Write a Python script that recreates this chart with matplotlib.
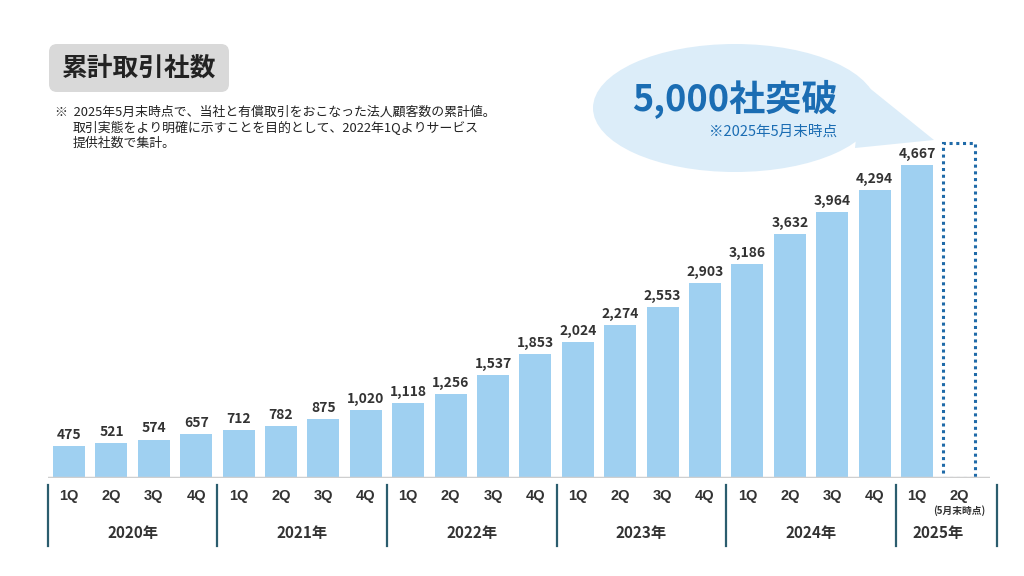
import matplotlib
matplotlib.use("Agg")
import matplotlib.pyplot as plt
from matplotlib.patches import FancyBboxPatch, Ellipse, Polygon, Rectangle
import matplotlib.transforms as mtransforms

plt.rcParams['font.family'] = ['Noto Sans CJK JP', 'DejaVu Sans']

# ---- data ----
years = ["2020年", "2021年", "2022年", "2023年", "2024年", "2025年"]
quarters = ["1Q", "2Q", "3Q", "4Q"] * 5 + ["1Q", "2Q"]
values = [475, 521, 574, 657, 712, 782, 875, 1020, 1118, 1256, 1537, 1853,
          2024, 2274, 2553, 2903, 3186, 3632, 3964, 4294, 4667]
target_value = 5000
title = "累計取引社数"
note_lines = ["※  2025年5月末時点で、当社と有償取引をおこなった法人顧客数の累計値。",
              "取引実態をより明確に示すことを目的として、2022年1Qよりサービス",
              "提供社数で集計。"]
bubble_main = "5,000社突破"
bubble_sub = "※2025年5月末時点"
sub_label = "(5月末時点)"

W, H = 1024, 576
fig = plt.figure(figsize=(W / 100, H / 100), dpi=100)

# overlay axes in pixel coords
ov = fig.add_axes([0, 0, 1, 1], zorder=0)
ov.set_xlim(0, W)
ov.set_ylim(H, 0)
ov.axis("off")

# main axes
px_unit = 42.4
x_first = 69
base_px = 478
left_px = x_first - 0.5 * px_unit
right_px = 990
ymax = 6000
scale = (478 - 165) / 4667
top_px = base_px - ymax * scale
ax = fig.add_axes([left_px / W, (H - base_px) / H, (right_px - left_px) / W,
                   (base_px - top_px) / H], zorder=1)
ax.patch.set_alpha(0)
ax.set_xlim(-0.5, (right_px - x_first) / px_unit)
ax.set_ylim(0, ymax)
ax.axis("off")

xs = list(range(len(values)))
bar_w = 32 / px_unit
ax.bar(xs, values, width=bar_w, color="#9fd0f1", zorder=2)
for x, v in zip(xs, values):
    ax.text(x, v + 60, f"{v:,}", ha="center", va="bottom", fontsize=10,
            fontweight="bold", color="#333333")

# dotted target box
xt = len(values)
ax.add_patch(Rectangle((xt - bar_w / 2, 0), bar_w, target_value, fill=False,
                       edgecolor="#1f6aa8", linestyle=(0, (1, 1.2)), lw=2.2, zorder=3))

# baseline
ax.axhline(0, color="#cfcfcf", lw=2.5, zorder=4, xmin=0, xmax=1)

trans = mtransforms.blended_transform_factory(ax.transData, ax.transAxes)
ah = base_px - top_px
def yf(py):
    return (base_px - py) / ah

# separators
sep_x = [-0.5, 3.5, 7.5, 11.5, 15.5, 19.5, (997 - x_first) / px_unit]
for sx in sep_x:
    ax.plot([sx, sx], [yf(485), yf(546)], transform=trans, color="#2b5d6e",
            lw=1.6, clip_on=False)

qfont = ['Liberation Sans', 'DejaVu Sans']
for i, q in enumerate(quarters):
    ax.text(i, yf(496), q, transform=trans, ha="center", va="center",
            fontsize=10.5, fontweight="bold", color="#333333", family=qfont)
ax.text(len(quarters) - 1, yf(511), sub_label, transform=trans, ha="center",
        va="center", fontsize=7, fontweight="bold", color="#333333")

year_centers = [1.5, 5.5, 9.5, 13.5, 17.5, 20.5]
for yc, yl in zip(year_centers, years):
    ax.text(yc, yf(533), yl, transform=trans, ha="center", va="center",
            fontsize=11, fontweight="bold", color="#333333")

# title box
ov.add_patch(FancyBboxPatch((52, 47), 174, 42, boxstyle="round,pad=3,rounding_size=8",
                            facecolor="#d9d9d9", edgecolor="none"))
ov.text(139, 68, title, ha="center", va="center", fontsize=18.5,
        fontweight="bold", color="#222222")

# notes
ov.text(55, 112, note_lines[0], ha="left", va="center", fontsize=9.3, color="#222222")
ov.text(73, 128, note_lines[1], ha="left", va="center", fontsize=9.3, color="#222222")
ov.text(73, 143, note_lines[2], ha="left", va="center", fontsize=9.3, color="#222222")

# bubble
bubble_col = "#dcedf9"
ov.add_patch(Ellipse((735, 108), 284, 128, facecolor=bubble_col, edgecolor="none"))
ov.add_patch(Polygon([(862, 82), (855, 148), (934, 140)], closed=True,
                     facecolor=bubble_col, edgecolor="none"))
ov.text(735, 100, bubble_main, ha="center", va="center", fontsize=26,
        fontweight="bold", color="#1b6db3")
ov.text(837, 132, bubble_sub, ha="right", va="center", fontsize=10.5,
        color="#1b6db3")

fig.savefig("out.png", dpi=100)
